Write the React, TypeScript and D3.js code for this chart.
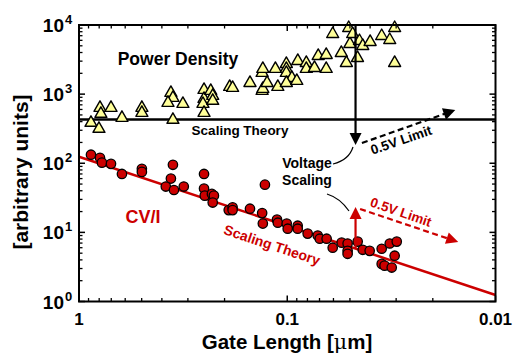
import React from "react";
import * as d3 from "d3";

// Power density measurements (gate length in µm, arbitrary units)
const powerLength = [0.876,0.793,0.785,0.802,0.702,0.622,0.499,0.499,0.362,0.354,0.374,0.317,0.354,0.251,0.251,0.254,0.251,0.233,0.228,0.228,0.189,0.183,0.151,0.132,0.132,0.131,0.131,0.125,0.114,0.101,0.101,0.101,0.111,0.095,0.101,0.090,0.089,0.081,0.081,0.074,0.071,0.065,0.065,0.0605,0.055,0.052,0.050,0.0507,0.0485,0.046,0.045,0.0434,0.040,0.0352,0.0322,0.0305,0.0305];
const powerValue = [385,633,519,315,633,454,633,536,1042,883,748,723,425,1151,853,723,536,1114,944,800,1273,1231,1452,1114,2027,2317,1191,1452,2317,2733,2317,2027,1273,1717,1452,1553,3020,2826,2317,2393,3566,3690,2317,7413,3944,2826,5321,9055,7413,3337,5870,4977,5688,6934,6069,9055,2826];

// CV/I delay measurements
const cviLength = [0.876,0.793,0.776,0.702,0.622,0.499,0.499,0.354,0.362,0.383,0.350,0.314,0.251,0.251,0.249,0.230,0.225,0.228,0.191,0.183,0.183,0.151,0.132,0.131,0.128,0.112,0.111,0.1006,0.0995,0.0891,0.0891,0.0798,0.0714,0.0698,0.0647,0.0605,0.0548,0.0513,0.0513,0.0513,0.0459,0.0434,0.0402,0.0352,0.0322,0.0298,0.0305,0.0352,0.0341,0.0315];
const cviValue = [133,120,102,98,70,83,75,95,60,46,41,46,70,43,34,36,34,27,21,23,21,22,19,13.4,49,15.3,13.8,13.4,11.3,12.5,11.3,9.6,9.0,8.1,8.1,6.0,7.1,6.9,5.4,4.9,7.35,5.6,5.4,5.8,6.9,7.35,4.6,3.5,3.3,3.1];

// Constant-field scaling theory lines
const powerTheory = [[1, 430], [0.01, 430]];
const cviTheory = [[1, 124], [0.01, 1.24]];

// Annotation arrows: [gateLength, value] pairs
const voltageArrow = [[0.047, 10000], [0.047, 184]];
const powerLimitArrow = [[0.0438, 196], [0.0156, 589]];
const cviArrow = [[0.047, 5.94], [0.047, 23.3]];
const cviLimitArrow = [[0.0447, 21.8], [0.0151, 7.26]];

const xMajor = [1, 0.1, 0.01];
const xTickLabels = ["1", "0.1", "0.01"];
const yMajor = [1, 10, 100, 1000, 10000];
const yExponents = ["0", "1", "2", "3", "4"];

const W = 513;
const H = 354;
const left = 79;
const right = 495.5;
const top = 25;
const bottom = 301.5;

const FONT = "'Liberation Sans', Arial, sans-serif";
const RED = "#cc0000";

const x = d3.scaleLog().domain([1, 0.01]).range([left, right]);
const y = d3.scaleLog().domain([1, 10000]).range([bottom, top]);

function minorTicks(lo: number, hi: number) {
  const out: number[] = [];
  for (let e = lo; e < hi; e++) {
    for (let m = 2; m <= 9; m++) out.push(m * Math.pow(10, e));
  }
  return out;
}

const xMinor = minorTicks(-2, 0);
const yMinor = minorTicks(0, 4);

function arrowHead(x1: number, y1: number, x2: number, y2: number, len: number, half: number) {
  const a = Math.atan2(y2 - y1, x2 - x1);
  const bx = x2 - len * Math.cos(a);
  const by = y2 - len * Math.sin(a);
  const px = -Math.sin(a) * half;
  const py = Math.cos(a) * half;
  return `M${x2},${y2}L${bx + px},${by + py}L${bx - px},${by - py}Z`;
}

function Arrow({ pts, color, dashed }: { pts: number[][]; color: string; dashed?: boolean }) {
  const x1 = x(pts[0][0]);
  const y1 = y(pts[0][1]);
  const x2 = x(pts[1][0]);
  const y2 = y(pts[1][1]);
  const len = 12;
  const a = Math.atan2(y2 - y1, x2 - x1);
  const ex = x2 - (len - 1) * Math.cos(a);
  const ey = y2 - (len - 1) * Math.sin(a);
  return (
    <g>
      <line x1={x1} y1={y1} x2={ex} y2={ey} stroke={color} strokeWidth={2.2}
        strokeDasharray={dashed ? "6,3.5" : undefined} />
      <path d={arrowHead(x1, y1, x2, y2, len, 6)} fill={color} />
    </g>
  );
}

const triPath = "M0,-7L6,3.5L-6,3.5Z";

export default function App() {
  const line = d3.line<number[]>().x((d) => x(d[0])).y((d) => y(d[1]));
  const slope = (Math.atan2(y(cviTheory[1][1]) - y(cviTheory[0][1]), x(cviTheory[1][0]) - x(cviTheory[0][0])) * 180) / Math.PI;

  return (
    <svg width={W} height={H} style={{ position: "absolute", left: 0, top: 0, background: "#fff" }}
      fontFamily={FONT} fontWeight="bold">
      {/* theory lines */}
      <path d={line(powerTheory as number[][]) || ""} stroke="#000" strokeWidth={2.5} fill="none" />
      <path d={line(cviTheory as number[][]) || ""} stroke={RED} strokeWidth={2.5} fill="none" />

      {/* power density points */}
      {powerLength.map((l, i) => (
        <path key={"p" + i} d={triPath} transform={`translate(${x(l)},${y(powerValue[i])})`}
          fill="#ffff99" stroke="#000" strokeWidth={1.4} strokeLinejoin="round" />
      ))}

      {/* CV/I points */}
      {cviLength.map((l, i) => (
        <circle key={"c" + i} cx={x(l)} cy={y(cviValue[i])} r={4.7}
          fill={RED} stroke="#000" strokeWidth={1.3} />
      ))}

      {/* annotations */}
      <Arrow pts={voltageArrow} color="#000" />
      <Arrow pts={powerLimitArrow} color="#000" dashed />
      <Arrow pts={cviArrow} color={RED} />
      <Arrow pts={cviLimitArrow} color={RED} dashed />

      <path d="M333,164Q349,160 353,147" stroke="#000" strokeWidth={1.2} fill="none" />
      <path d="M327,194Q340,198 349,211" stroke="#000" strokeWidth={1.2} fill="none" />

      <text x={178} y={65} fontSize={17.5} textAnchor="middle">Power Density</text>
      <text x={240} y={135} fontSize={13.5} textAnchor="middle">Scaling Theory</text>
      <text x={307} y={168} fontSize={14} textAnchor="middle">Voltage</text>
      <text x={307} y={185} fontSize={14} textAnchor="middle">Scaling</text>
      <text transform="translate(401,140) rotate(-19)" fontSize={13.5} textAnchor="middle" dy="0.35em">0.5V Limit</text>
      <text transform="translate(401,212) rotate(19)" fontSize={13.5} textAnchor="middle" dy="0.35em" fill={RED}>0.5V Limit</text>
      <text x={143} y={223} fontSize={18} textAnchor="middle" fill={RED}>CV/I</text>
      <text transform={`translate(272,245) rotate(${slope})`} fontSize={14} textAnchor="middle" dy="0.35em" fill={RED}>Scaling Theory</text>

      {/* frame */}
      <rect x={left} y={top} width={right - left} height={bottom - top} fill="none" stroke="#000" strokeWidth={2} />

      {/* x ticks (bottom and top, inward) */}
      {xMajor.map((v) => (
        <g key={"xm" + v}>
          <line x1={x(v)} x2={x(v)} y1={bottom} y2={bottom - 6} stroke="#000" strokeWidth={1.5} />
          <line x1={x(v)} x2={x(v)} y1={top} y2={top + 6} stroke="#000" strokeWidth={1.5} />
        </g>
      ))}
      {xMinor.map((v) => (
        <g key={"xn" + v}>
          <line x1={x(v)} x2={x(v)} y1={bottom} y2={bottom - 3.5} stroke="#000" strokeWidth={1.3} />
          <line x1={x(v)} x2={x(v)} y1={top} y2={top + 3.5} stroke="#000" strokeWidth={1.3} />
        </g>
      ))}
      {/* y ticks (left and right, inward) */}
      {yMajor.map((v) => (
        <g key={"ym" + v}>
          <line x1={left} x2={left + 6} y1={y(v)} y2={y(v)} stroke="#000" strokeWidth={1.5} />
          <line x1={right} x2={right - 6} y1={y(v)} y2={y(v)} stroke="#000" strokeWidth={1.5} />
        </g>
      ))}
      {yMinor.map((v) => (
        <g key={"yn" + v}>
          <line x1={left} x2={left + 3.5} y1={y(v)} y2={y(v)} stroke="#000" strokeWidth={1.3} />
          <line x1={right} x2={right - 3.5} y1={y(v)} y2={y(v)} stroke="#000" strokeWidth={1.3} />
        </g>
      ))}

      {/* tick labels */}
      {xMajor.map((v, i) => (
        <text key={"xl" + v} x={x(v)} y={325} fontSize={17} textAnchor="middle">{xTickLabels[i]}</text>
      ))}
      {yMajor.map((v, i) => (
        <g key={"yl" + v}>
          <text x={64} y={y(v) + 7} fontSize={19} textAnchor="end">10</text>
          <text x={65} y={y(v) - 1} fontSize={13}>{yExponents[i]}</text>
        </g>
      ))}

      {/* axis titles */}
      <text x={287} y={349} fontSize={20.5} textAnchor="middle">
        Gate Length [<tspan fontWeight="normal" fontFamily="'DejaVu Serif', serif">μ</tspan>m]
      </text>
      <text transform="translate(28,172) rotate(-90)" fontSize={21} textAnchor="middle">[arbitrary units]</text>
    </svg>
  );
}
